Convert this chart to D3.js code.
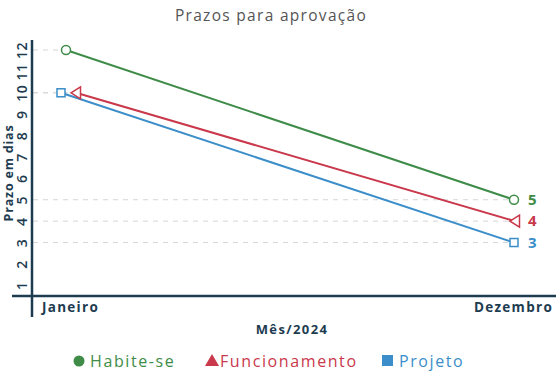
<!DOCTYPE html>
<html><head><meta charset="utf-8">
<script src="https://cdn.jsdelivr.net/npm/d3@7"></script>
<style>html,body{margin:0;padding:0;background:#fff;}svg{display:block;font-family:"Open Sans","Noto Sans",sans-serif;}</style>
</head><body><svg id="c" width="560" height="383"></svg>
<script>
const months = ["Janeiro", "Dezembro"];
const yTicks = [1,2,3,4,5,6,7,8,9,10,11,12];
const habite = [12, 5];
const funcionamento = [10, 4];
const projeto = [10, 3];
const seriesNames = ["Habite-se", "Funcionamento", "Projeto"];

const colors = {"Habite-se":"#3e8c48","Funcionamento":"#c9384b","Projeto":"#3b8ec9"};
const series = [
  {name:"Habite-se", values:habite, marker:"circle", dx:[0,0]},
  {name:"Funcionamento", values:funcionamento, marker:"triangle", dx:[10,1]},
  {name:"Projeto", values:projeto, marker:"square", dx:[-5,0]}
];

const svg = d3.select("#c");
const axisColor = "#1e3c50";
const x = d3.scalePoint().domain(months).range([66, 514]);
const y = d3.scaleLinear().domain([0.5, 12]).range([296, 50]);

// title
svg.append("text").attr("x",271).attr("y",21).attr("text-anchor","middle")
  .attr("font-size",15.5).attr("letter-spacing","1.3px").attr("fill","#555").text("Prazos para aprovação");

// dashed guide lines
series.forEach(s=>{
  s.values.forEach((v,i)=>{
    const px = x(months[i]) + s.dx[i];
    svg.append("line").attr("x1",33).attr("x2",px).attr("y1",y(v)).attr("y2",y(v))
      .attr("stroke","#d6d6d6").attr("stroke-width",1).attr("stroke-dasharray","5,5");
  });
});

// y axis
const yAxis = d3.axisLeft(y).tickValues(yTicks).tickSize(0).tickPadding(0);
const gy = svg.append("g").attr("transform","translate(32,0)").call(yAxis);
gy.select(".domain").remove();
gy.selectAll("text").attr("transform","rotate(-90)").attr("x",0).attr("y",-5)
  .attr("dy","0").attr("text-anchor","middle").attr("font-size",14).attr("font-weight",600)
  .attr("letter-spacing","0.5px").attr("fill",axisColor).attr("font-family","'Open Sans',sans-serif");
svg.append("line").attr("x1",32).attr("x2",32).attr("y1",40).attr("y2",317)
  .attr("stroke",axisColor).attr("stroke-width",2.5);

// x axis
const xAxis = d3.axisBottom(x).tickSize(0).tickPadding(6);
const gx = svg.append("g").attr("transform","translate(0,296)").call(xAxis);
gx.select(".domain").remove();
gx.selectAll("text").attr("font-size",13.5).attr("font-weight",700).attr("fill",axisColor)
  .attr("letter-spacing","1.3px").attr("font-family","'Open Sans',sans-serif");
gx.selectAll(".tick").filter(d=>d==="Janeiro").select("text").attr("dx",4);
gx.selectAll(".tick").filter(d=>d==="Dezembro").select("text").attr("dx",-1);
svg.append("line").attr("x1",12).attr("x2",556).attr("y1",296).attr("y2",296)
  .attr("stroke",axisColor).attr("stroke-width",2.5);

// axis titles
svg.append("text").attr("transform","translate(13,173) rotate(-90)").attr("text-anchor","middle")
  .attr("font-size",12.5).attr("font-weight",700).attr("letter-spacing","0.8px").attr("fill",axisColor).text("Prazo em dias");
svg.append("text").attr("x",292).attr("y",334).attr("text-anchor","middle")
  .attr("font-size",13).attr("font-weight",700).attr("fill",axisColor).attr("letter-spacing","1.4px").text("Mês/2024");

// lines
const line = d3.line().x(d=>d.x).y(d=>d.y);
series.forEach(s=>{
  const pts = s.values.map((v,i)=>({x:x(months[i])+s.dx[i], y:y(v)}));
  svg.append("path").attr("d",line(pts)).attr("fill","none").attr("stroke",colors[s.name]).attr("stroke-width",2);
});

function marker(g, type, cx, cy, color){
  if(type==="circle"){
    g.append("circle").attr("cx",cx).attr("cy",cy).attr("r",4.5).attr("fill","#fff").attr("stroke",color).attr("stroke-width",1.5);
  } else if(type==="square"){
    const s=8;
    g.append("rect").attr("x",cx-s/2).attr("y",cy-s/2).attr("width",s).attr("height",s).attr("fill","#fff").attr("stroke",color).attr("stroke-width",1.5);
  } else {
    g.append("path").attr("d",`M${cx-5},${cy} L${cx+4.5},${cy-6} L${cx+4.5},${cy+6} Z`).attr("fill","#fff").attr("stroke",color).attr("stroke-width",1.5);
  }
}
series.forEach(s=>{
  s.values.forEach((v,i)=>{
    marker(svg, s.marker, x(months[i])+s.dx[i], y(v), colors[s.name]);
  });
  const last = s.values.length-1;
  svg.append("text").attr("x",x(months[last])+14).attr("y",y(s.values[last])+5)
    .attr("font-size",15).attr("font-weight",700).attr("fill",colors[s.name]).text(s.values[last]);
});

// legend
const legendX = [79, 212, 388];
const lg = svg.append("g");
seriesNames.forEach((n,i)=>{
  const cx = legendX[i], cy = 361;
  const c = colors[n];
  if(i===0) lg.append("circle").attr("cx",cx).attr("cy",cy).attr("r",5.5).attr("fill",c);
  else if(i===1) lg.append("path").attr("d",`M${cx},${cy-7} L${cx+7},${cy+5} L${cx-7},${cy+5} Z`).attr("fill",c);
  else lg.append("rect").attr("x",cx-6).attr("y",cy-6).attr("width",11).attr("height",11).attr("fill",c);
  lg.append("text").attr("x",cx+(i===1?8:11)).attr("y",cy+5.5).attr("font-size",16).attr("letter-spacing","1.6px")
    .attr("fill",c).text(n);
});
</script></body></html>
